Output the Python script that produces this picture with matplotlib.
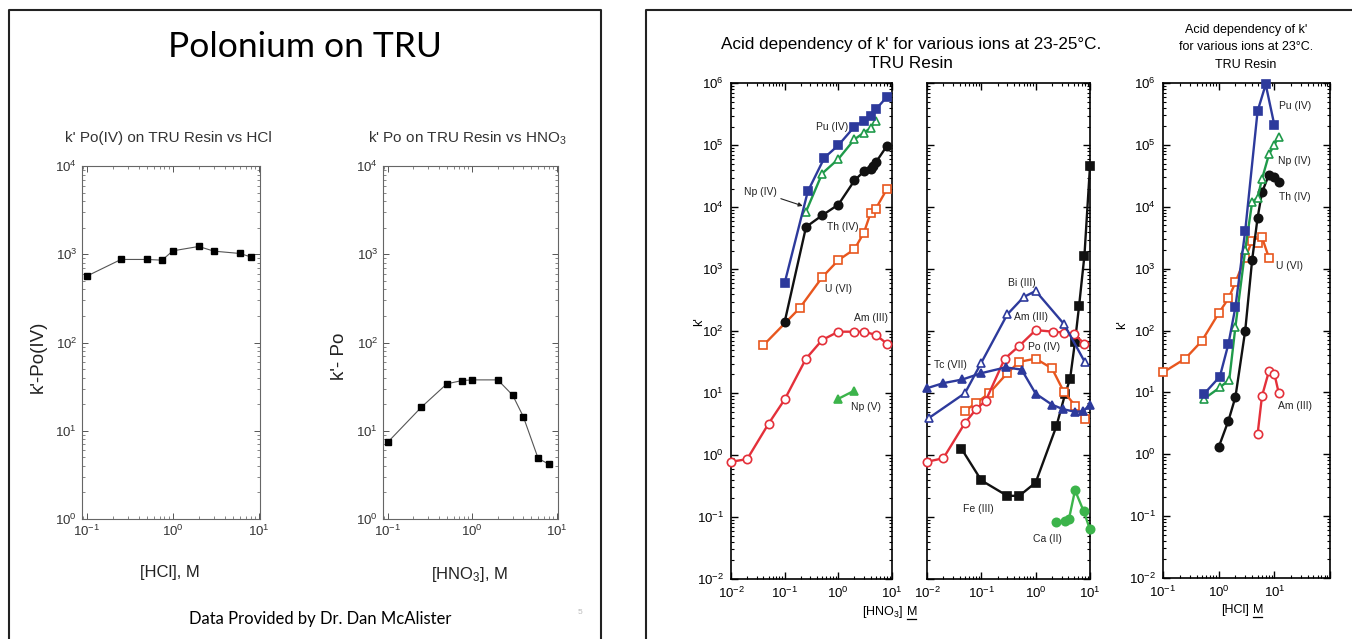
import matplotlib

matplotlib.use("Agg")
import matplotlib.pyplot as plt  # noqa: E402
from matplotlib.lines import Line2D  # noqa: E402
from matplotlib.ticker import FixedLocator, LogLocator, NullFormatter  # noqa: E402

W, H = 1352, 639
plt.rcParams["font.family"] = ["Liberation Sans", "DejaVu Sans"]
plt.rcParams["mathtext.fontset"] = "custom"
plt.rcParams["mathtext.rm"] = "Liberation Sans"
plt.rcParams["mathtext.it"] = "Liberation Sans:italic"

# --- left slide: Po on TRU (Dr. McAlister data) ---
po_hcl_x = [0.1, 0.25, 0.5, 0.75, 1.0, 2.0, 3.0, 6.0, 8.0]
po_hcl_k = [565, 873, 873, 857, 1093, 1225, 1084, 1021, 935]
po_hno3_x = [0.1, 0.25, 0.5, 0.75, 1.0, 2.0, 3.0, 4.0, 6.0, 8.0]
po_hno3_k = [7.4, 18.5, 34, 37, 37.7, 37.7, 25.3, 14.5, 4.86, 4.19]

# --- right slide, HNO3 panel A ---
pu_n_x = [0.1, 0.27, 0.55, 1.0, 2.0, 3.0, 4.0, 5.0, 8.0]
pu_n_k = [600, 1.8e4, 6.3e4, 1.0e5, 2.0e5, 2.5e5, 3.0e5, 3.8e5, 6.0e5]
np4_n_x = [0.25, 0.5, 1.0, 2.0, 3.0, 4.0, 5.0]
np4_n_k = [8.5e3, 3.5e4, 6.0e4, 1.25e5, 1.6e5, 1.9e5, 2.5e5]
th_n_x = [0.1, 0.25, 0.5, 1.0, 2.0, 3.0, 4.0, 4.5, 5.0, 8.0]
th_n_k = [141, 4.8e3, 7.4e3, 1.1e4, 2.7e4, 3.8e4, 4.2e4, 4.6e4, 5.3e4, 9.7e4]
u_n_x = [0.04, 0.19, 0.5, 1.0, 2.0, 3.0, 4.0, 5.0, 8.0]
u_n_k = [59, 235, 740, 1.4e3, 2.1e3, 3.9e3, 8.1e3, 9.5e3, 1.95e4]
am_n_x = [0.01, 0.02, 0.05, 0.1, 0.25, 0.5, 1.0, 2.0, 3.0, 5.0, 8.0]
am_n_k = [0.78, 0.86, 3.2, 7.9, 36, 72, 98, 98, 98, 87, 63]
np5_n_x = [1.0, 2.0]
np5_n_k = [8.1, 11]

# --- right slide, HNO3 panel B ---
fe_x = [0.043, 0.1, 0.3, 0.5, 1.0, 2.4, 3.5, 4.3, 5.3, 6.3, 7.9, 10]
fe_k = [1.27, 0.39, 0.22, 0.22, 0.36, 2.9, 9.8, 17, 68, 257, 1.66e3, 4.6e4]
ca_x = [2.4, 3.4, 4.1, 5.3, 7.6, 10]
ca_k = [0.083, 0.085, 0.093, 0.27, 0.126, 0.063]
bi_x = [0.011, 0.05, 0.1, 0.3, 0.6, 1.0, 3.3, 8.0]
bi_k = [4.0, 10, 31, 186, 355, 445, 131, 32]
tc_x = [0.01, 0.02, 0.045, 0.1, 0.28, 0.55, 1.0, 2.0, 3.2, 5.3, 7.5, 10]
tc_k = [12, 14.5, 16.6, 21, 26, 24, 9.8, 6.5, 5.5, 5.0, 5.1, 6.5]
am_b_x = [0.01, 0.02, 0.05, 0.08, 0.12, 0.27, 0.5, 1.0, 2.1, 3.3, 5.1, 7.9]
am_b_k = [0.78, 0.89, 3.3, 5.5, 7.5, 36, 58, 104, 98, 95, 89, 63]
po_b_x = [0.05, 0.08, 0.14, 0.3, 0.5, 1.0, 2.0, 3.3, 5.3, 8.0]
po_b_k = [5.2, 6.9, 10, 21, 32, 36, 25, 10.5, 6.3, 3.8]

# --- right slide, HCl panel ---
pu_c_x = [0.55, 1.05, 1.5, 2.0, 3.0, 5.0, 7.0, 10.0]
pu_c_k = [9.5, 18, 61, 240, 4.1e3, 3.5e5, 9.5e5, 2.1e5]
np_c_x = [0.55, 1.05, 1.55, 2.0, 3.0, 4.0, 5.0, 6.0, 8.0, 10.0, 12.0]
np_c_k = [7.9, 12, 16, 115, 2.0e3, 1.2e4, 1.4e4, 2.8e4, 7.0e4, 1.0e5, 1.35e5]
th_c_x = [1.0, 1.5, 2.0, 3.0, 4.0, 5.0, 6.0, 8.0, 10.0, 12.0]
th_c_k = [1.3, 3.5, 8.4, 100, 1.4e3, 6.6e3, 1.7e4, 3.3e4, 3.0e4, 2.5e4]
u_c_x = [0.1, 0.25, 0.5, 1.0, 1.5, 2.0, 3.0, 4.0, 5.0, 6.0, 8.0]
u_c_k = [21, 35, 68, 190, 330, 600, 1.5e3, 2.8e3, 2.6e3, 3.2e3, 1.5e3]
am_c_x = [5.0, 6.0, 8.0, 10.0, 12.0]
am_c_k = [2.1, 8.7, 22, 20, 9.8]

BLUE, GREEN, BLACK = "#2d3a9c", "#1f9a4a", "#111111"
RED, ORANGE, LGREEN = "#e4303a", "#e8561e", "#3cb44b"

fig = plt.figure(figsize=(W / 100, H / 100), dpi=100)


def axes_px(x0, y0, x1, y1):
    return fig.add_axes([x0 / W, 1 - y1 / H, (x1 - x0) / W, (y1 - y0) / H])


def ftext(px, py, s, **kw):
    return fig.text(px / W, 1 - py / H, s, **kw)


def fline(xs, ys, lw=1.3, color="#222222"):
    fig.add_artist(Line2D([x / W for x in xs], [1 - y / H for y in ys],
                          lw=lw, color=color, transform=fig.transFigure))


def decades(lo, hi):
    return [10.0 ** e for e in range(lo, hi + 1)]


def log_ticks(ax, xdec, ydec):
    ax.xaxis.set_major_locator(FixedLocator(decades(*xdec)))
    ax.yaxis.set_major_locator(FixedLocator(decades(*ydec)))
    for axis in (ax.xaxis, ax.yaxis):
        axis.set_minor_locator(LogLocator(base=10, subs=range(2, 10), numticks=20))
        axis.set_minor_formatter(NullFormatter())


# slide frames
fline([9, 9, 601, 601], [639, 10, 10, 639], lw=1.5)
fline([646, 646, 1352], [639, 10, 10], lw=1.5)

# ---------------- left slide ----------------
ftext(305, 47, "Polonium on TRU", family=["Lato", "DejaVu Sans"], fontsize=25.5,
      ha="center", va="center")
ftext(168, 138, "k' Po(IV) on TRU Resin vs HCl", fontsize=11,
      ha="center", va="center", color="#333333")
ftext(467, 138, "k' Po on TRU Resin vs HNO$_3$", fontsize=11,
      ha="center", va="center", color="#333333")
ftext(320, 619, "Data Provided by Dr. Dan McAlister", family=["Lato", "DejaVu Sans"],
      fontsize=12, ha="center", va="center")
ftext(580, 612, "5", fontsize=6, color="#bbbbbb", ha="center", va="center")

for (x0, x1), xs, ks, ylab, xlab in [
    ((82, 260), po_hcl_x, po_hcl_k, "k'-Po(IV)", "[HCl], M"),
    ((383, 558), po_hno3_x, po_hno3_k, "k'- Po", "[HNO$_3$], M"),
]:
    ax = axes_px(x0, 166, x1, 519)
    ax.set_xscale("log")
    ax.set_yscale("log")
    ax.set_xlim(0.088, 10.3)
    ax.set_ylim(1, 1e4)
    log_ticks(ax, (-1, 1), (0, 4))
    ax.plot(xs, ks, color="#555555", lw=0.8, marker="s", ms=5, mfc="black",
            mec="black", clip_on=False)
    ax.tick_params(which="both", direction="in", top=True, right=True,
                   labelsize=9.5, colors="#555555", labelcolor="#333333")
    ax.tick_params(which="major", length=4, width=0.7)
    ax.tick_params(which="minor", length=2, width=0.5)
    for s in ax.spines.values():
        s.set_linewidth(0.8)
        s.set_color("#666666")
    ax.set_ylabel(ylab, fontsize=13.5, color="#222222")
    ax.yaxis.set_label_coords(-0.2, 0.46)
    ax.set_xlabel(xlab, fontsize=12, color="#222222")
    ax.xaxis.set_label_coords(0.495, -0.13)

# ---------------- right slide ----------------
ftext(911, 45, "Acid dependency of k' for various ions at 23-25\u00b0C.", fontsize=12.3,
      ha="center", va="center")
ftext(911, 64, "TRU Resin", fontsize=12.3, ha="center", va="center")
ftext(1246, 30, "Acid dependency of k'", fontsize=9, ha="center", va="center")
ftext(1246, 47, "for various ions at 23\u00b0C.", fontsize=9, ha="center", va="center")
ftext(1246, 65, "TRU Resin", fontsize=9, ha="center", va="center")


def style_right(ax, xlim, xdec, ylabels=True):
    ax.set_xscale("log")
    ax.set_yscale("log")
    ax.set_xlim(*xlim)
    ax.set_ylim(1e-2, 1e6)
    log_ticks(ax, xdec, (-2, 6))
    ax.tick_params(which="both", direction="in", top=True, right=True, labelsize=9.5)
    ax.tick_params(which="major", length=5, width=1)
    ax.tick_params(which="minor", length=2.5, width=0.8)
    ax.tick_params(axis="x", pad=5)
    ax.tick_params(axis="y", pad=5)
    if not ylabels:
        ax.tick_params(labelleft=False)
    for s in ax.spines.values():
        s.set_linewidth(1.2)


def series(ax, x, y, color, marker, filled, lw=1.7):
    ax.plot(x, y, color=color, lw=lw, marker=marker, ms=6,
            mfc=color if filled else "white", mec=color, mew=1.2,
            clip_on=False, zorder=3)


def lab(ax, fx, fy, s):
    ax.text(fx, fy, s, transform=ax.transAxes, fontsize=7.5, ha="center",
            va="center", color="#222222")


axA = axes_px(731, 83.3, 892, 579)
style_right(axA, (0.01, 10), (-2, 1))
series(axA, am_n_x, am_n_k, RED, "o", False)
series(axA, u_n_x, u_n_k, ORANGE, "s", False)
series(axA, th_n_x, th_n_k, BLACK, "o", True)
series(axA, np4_n_x, np4_n_k, GREEN, "^", False)
series(axA, pu_n_x, pu_n_k, BLUE, "s", True)
series(axA, np5_n_x, np5_n_k, LGREEN, "^", True)
lab(axA, 0.629, 0.912, "Pu (IV)")
lab(axA, 0.692, 0.71, "Th (IV)")
lab(axA, 0.667, 0.585, "U (VI)")
lab(axA, 0.871, 0.527, "Am (III)")
lab(axA, 0.84, 0.347, "Np (V)")
axA.annotate("Np (IV)", xy=(0.47, 0.75), xytext=(0.182, 0.781),
             xycoords="axes fraction", textcoords="axes fraction", fontsize=7.5,
             ha="center", va="center", color="#222222",
             arrowprops=dict(arrowstyle="-|>", color="#222222", lw=0.8,
                             mutation_scale=6, shrinkA=1, shrinkB=3))
ftext(699, 322, "k'", fontsize=9, rotation=90, ha="center", va="center")

axB = axes_px(927, 83.3, 1090, 579)
style_right(axB, (0.01, 10), (-2, 1), ylabels=False)
series(axB, fe_x, fe_k, BLACK, "s", True)
series(axB, ca_x, ca_k, LGREEN, "o", True)
series(axB, po_b_x, po_b_k, ORANGE, "s", False)
series(axB, am_b_x, am_b_k, RED, "o", False)
series(axB, bi_x, bi_k, BLUE, "^", False)
series(axB, tc_x, tc_k, BLUE, "^", True)
lab(axB, 0.583, 0.597, "Bi (III)")
lab(axB, 0.638, 0.529, "Am (III)")
lab(axB, 0.718, 0.468, "Po (IV)")
lab(axB, 0.141, 0.432, "Tc (VII)")
lab(axB, 0.313, 0.141, "Fe (III)")
lab(axB, 0.736, 0.081, "Ca (II)")

ftext(903, 612, "[HNO$_3$]", fontsize=9, ha="right", va="center")
ftext(907, 612, "M", fontsize=9, ha="left", va="center")
fline([907, 916], [618.5, 618.5], lw=0.9, color="black")

axC = axes_px(1163, 83, 1330, 578)
style_right(axC, (0.1, 100), (-1, 2))
axC.set_xticklabels(["$10^{-1}$", "$10^{0}$", "$10^{1}$", ""])
series(axC, u_c_x, u_c_k, ORANGE, "s", False)
series(axC, am_c_x, am_c_k, RED, "o", False)
series(axC, th_c_x, th_c_k, BLACK, "o", True)
series(axC, np_c_x, np_c_k, GREEN, "^", False)
series(axC, pu_c_x, pu_c_k, BLUE, "s", True)
lab(axC, 0.79, 0.954, "Pu (IV)")
lab(axC, 0.79, 0.842, "Np (IV)")
lab(axC, 0.79, 0.77, "Th (IV)")
lab(axC, 0.755, 0.63, "U (VI)")
lab(axC, 0.79, 0.347, "Am (III)")
ftext(1122, 325, "k'", fontsize=9, rotation=90, ha="center", va="center")

ftext(1249, 610, "[HCl]", fontsize=9, ha="right", va="center")
ftext(1253, 610, "M", fontsize=9, ha="left", va="center")
fline([1253, 1262], [616.5, 616.5], lw=0.9, color="black")

fig.savefig("out.png", dpi=100)
